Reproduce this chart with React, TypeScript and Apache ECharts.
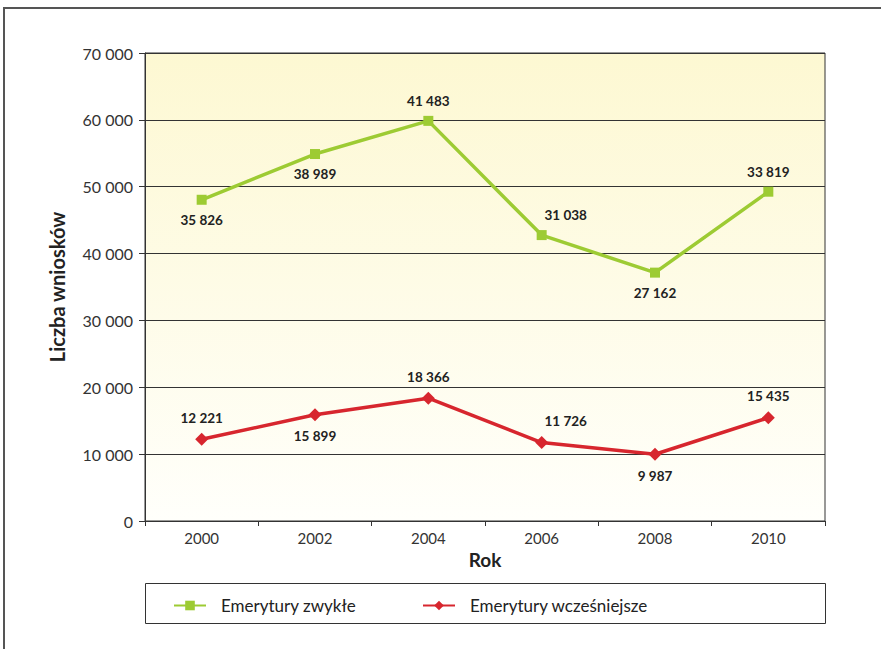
import React, { useEffect, useRef } from "react";
import * as echarts from "echarts";

const years = ["2000", "2002", "2004", "2006", "2008", "2010"];
const zwykle = [35826, 38989, 41483, 31038, 27162, 33819];
const wczesniejsze = [12221, 15899, 18366, 11726, 9987, 15435];
const zwykleLabelPos = ["bottom", "bottom", "top", "top", "bottom", "top"];
const wczesniejszeLabelPos = ["top", "bottom", "top", "top", "bottom", "top"];

const fmt = (v: number) => String(v).replace(/\B(?=(\d{3})+(?!\d))/g, " ");

const GREEN = "#9dcb33";
const RED = "#d7262e";
const FONT = "Lato, 'Open Sans', sans-serif";

export default function App() {
  const ref = useRef<HTMLDivElement>(null);
  useEffect(() => {
    const chart = echarts.init(ref.current!, undefined, { renderer: "svg" });
    const labelBase = {
      show: true,
      fontFamily: FONT,
      fontWeight: "bold" as const,
      fontSize: 13.5,
      color: "#222",
      distance: 8,
      formatter: (p: any) => fmt(p.value),
    };
    const mk = (vals: number[], pos: string[]) =>
      vals.map((v, i) => ({
        value: v,
        label: {
          position: pos[i],
          offset: i === 3 ? [24, 0] : [0, 0],
        },
      }));
    const legendText = { fontFamily: FONT, fontSize: 17, color: "#222", padding: [0, 0, 0, 10] };
    chart.setOption({
      animation: false,
      backgroundColor: "#fff",
      graphic: [
        {
          type: "rect",
          shape: { x: 4, y: 8, width: 900, height: 660 },
          style: { fill: "none", stroke: "#555", lineWidth: 2 },
          silent: true,
        },
        {
          type: "rect",
          shape: { x: 145.5, y: 583.5, width: 680, height: 40 },
          style: { fill: "none", stroke: "#333", lineWidth: 1 },
          silent: true,
        },
      ],
      grid: {
        left: 145,
        right: 56,
        top: 53,
        bottom: 128,
        show: true,
        borderColor: "#333",
        borderWidth: 1,
        backgroundColor: new echarts.graphic.LinearGradient(0, 0, 0, 1, [
          { offset: 0, color: "#fdf8d2" },
          { offset: 1, color: "#fffffb" },
        ]),
      },
      legend: [
        {
          data: ["Emerytury zwykłe"],
          left: 168,
          top: 592,
          itemWidth: 32,
          itemHeight: 12,
          textStyle: legendText,
        },
        {
          data: ["Emerytury wcześniejsze"],
          left: 417,
          top: 592,
          itemWidth: 32,
          itemHeight: 12,
          textStyle: legendText,
        },
      ],
      xAxis: {
        type: "category",
        data: years,
        boundaryGap: true,
        name: "Rok",
        nameLocation: "middle",
        nameGap: 29,
        nameTextStyle: { fontFamily: FONT, fontWeight: "bold", fontSize: 19, color: "#222" },
        axisLine: { lineStyle: { color: "#333", width: 1 } },
        axisTick: { show: true, length: 5, lineStyle: { color: "#333" } },
        axisLabel: { fontFamily: FONT, fontSize: 15, color: "#333", margin: 9 },
      },
      yAxis: {
        type: "value",
        min: 0,
        max: 70000,
        interval: 10000,
        name: "Liczba wniosków",
        nameLocation: "middle",
        nameGap: 78,
        nameTextStyle: { fontFamily: FONT, fontWeight: "bold", fontSize: 20, color: "#222" },
        axisLine: { show: true, lineStyle: { color: "#333", width: 1 } },
        axisTick: { show: true, length: 6, lineStyle: { color: "#333" } },
        axisLabel: {
          fontFamily: FONT,
          fontSize: 16,
          color: "#333",
          margin: 12,
          formatter: (v: number) => fmt(v),
        },
        splitLine: { show: true, lineStyle: { color: "#333", width: 1 } },
      },
      series: [
        {
          name: "Emerytury wcześniejsze",
          type: "line",
          stack: "total",
          data: mk(wczesniejsze, wczesniejszeLabelPos),
          symbol: "diamond",
          symbolSize: 13,
          lineStyle: { color: RED, width: 3.5 },
          itemStyle: { color: RED },
          label: labelBase,
        },
        {
          name: "Emerytury zwykłe",
          type: "line",
          stack: "total",
          data: mk(zwykle, zwykleLabelPos),
          symbol: "rect",
          symbolSize: 10,
          lineStyle: { color: GREEN, width: 3.5 },
          itemStyle: { color: GREEN },
          label: labelBase,
        },
      ],
    });
    return () => chart.dispose();
  }, []);
  return <div ref={ref} style={{ width: 881, height: 649, position: "absolute", left: 0, top: 0 }} />;
}
